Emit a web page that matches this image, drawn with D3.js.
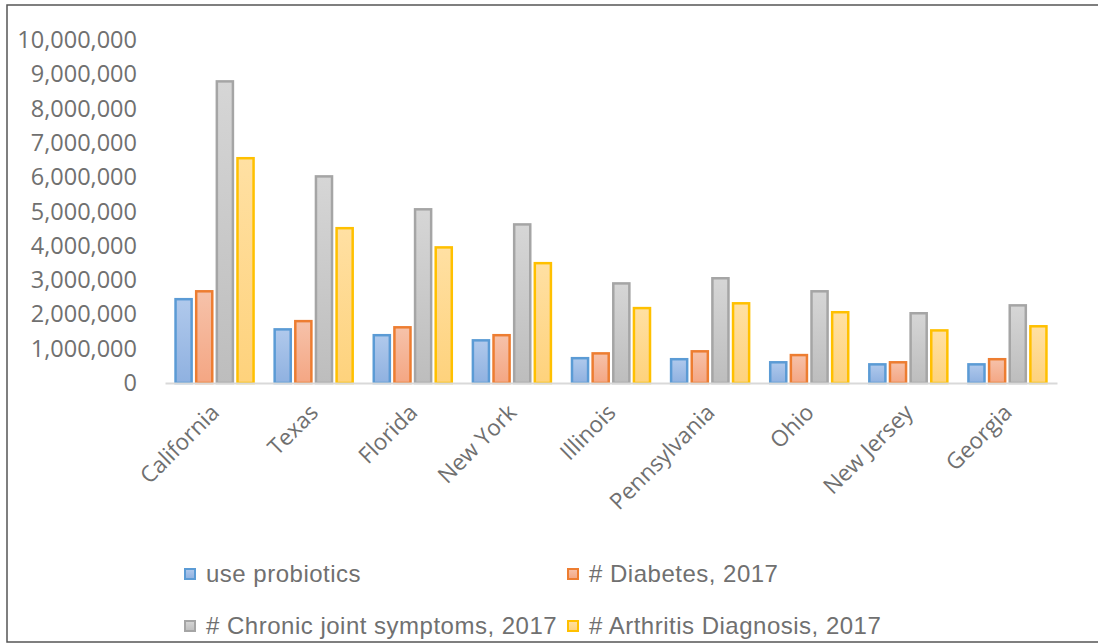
<!DOCTYPE html>
<html>
<head>
<meta charset="utf-8">
<script src="https://cdn.jsdelivr.net/npm/d3@7"></script>
<style>
  body { margin: 0; background: #fff; }
  svg { display: block; }
</style>
</head>
<body>
<div id="chart"></div>
<script>
const states = ["California", "Texas", "Florida", "New York", "Illinois", "Pennsylvania", "Ohio", "New Jersey", "Georgia"];
const seriesNames = ["use probiotics", "# Diabetes, 2017", "# Chronic joint symptoms, 2017", "# Arthritis Diagnosis, 2017"];
const probiotics = [2480000, 1600000, 1430000, 1280000, 760000, 730000, 640000, 580000, 580000];
const diabetes = [2710000, 1840000, 1660000, 1430000, 900000, 960000, 850000, 640000, 730000];
const jointSymptoms = [8830000, 6060000, 5100000, 4660000, 2940000, 3090000, 2710000, 2070000, 2300000];
const arthritis = [6590000, 4550000, 3990000, 3530000, 2220000, 2360000, 2100000, 1570000, 1690000];
const yTicks = [0, 1000000, 2000000, 3000000, 4000000, 5000000, 6000000, 7000000, 8000000, 9000000, 10000000];

const series = [probiotics, diabetes, jointSymptoms, arthritis];
const colors = [
  { stroke: "#5b9bd5", top: "#b0c9ec", bottom: "#8fb1e0" },
  { stroke: "#ed7d31", top: "#f6c2aa", bottom: "#f4a683" },
  { stroke: "#a5a5a5", top: "#d6d6d6", bottom: "#bdbdbd" },
  { stroke: "#ffc000", top: "#ffe0a3", bottom: "#fed27c" }
];
const textColor = "#707070";

const width = 1098, height = 644;
const svg = d3.select("#chart").append("svg")
  .attr("width", width)
  .attr("height", height);

const defs = svg.append("defs");
colors.forEach((c, i) => {
  const g = defs.append("linearGradient")
    .attr("id", "grad" + i)
    .attr("x1", 0).attr("y1", 0).attr("x2", 0).attr("y2", 1);
  g.append("stop").attr("offset", "0%").attr("stop-color", c.top);
  g.append("stop").attr("offset", "100%").attr("stop-color", c.bottom);
});

// outer frame
svg.append("rect")
  .attr("x", 7).attr("y", 5)
  .attr("width", width + 20).attr("height", 637)
  .attr("fill", "none")
  .attr("stroke", "#555")
  .attr("stroke-width", 1.5);

const x0 = d3.scaleBand()
  .domain(states)
  .range([165, 1057])
  .paddingInner(0)
  .paddingOuter(0);

const x1 = d3.scaleBand()
  .domain(d3.range(series.length))
  .range([0, x0.bandwidth()])
  .paddingInner(0.1)
  .paddingOuter(0.45);

const y = d3.scaleLinear()
  .domain([0, 10000000])
  .range([383, 40]);

// y axis labels
const yAxis = svg.append("g")
  .attr("transform", "translate(140,0)")
  .call(d3.axisLeft(y).tickValues(yTicks).tickSize(0).tickPadding(3).tickFormat(d3.format(",")));
yAxis.select(".domain").remove();
yAxis.selectAll("text")
  .attr("fill", textColor)
  .style("font-family", "'Open Sans', sans-serif")
  .style("font-size", "23.5px");

// bars
const groups = svg.append("g").selectAll("g")
  .data(states)
  .join("g")
  .attr("transform", d => `translate(${x0(d)},0)`);

groups.selectAll("rect")
  .data((d, i) => series.map((s, k) => ({ k, v: s[i] })))
  .join("rect")
  .attr("x", d => x1(d.k) + 1.25)
  .attr("y", d => y(d.v) + 1.25)
  .attr("width", x1.bandwidth() - 2.5)
  .attr("height", d => y(0) - y(d.v) - 1.25)
  .attr("fill", d => `url(#grad${d.k})`)
  .attr("stroke", d => colors[d.k].stroke)
  .attr("stroke-width", 2.5);

// x axis
const xAxis = svg.append("g")
  .attr("transform", `translate(0,${y(0)})`)
  .call(d3.axisBottom(x0).tickSize(0).tickPadding(0));
xAxis.select(".domain")
  .attr("stroke", "#d9d9d9")
  .attr("stroke-width", 2);
xAxis.selectAll("text")
  .attr("fill", textColor)
  .style("font-family", "'Open Sans', sans-serif")
  .style("font-size", "22.5px")
  .attr("text-anchor", "end")
  .attr("dy", 0)
  .attr("transform", "translate(6,31) rotate(-45)");

// legend
const legendItems = [
  { k: 0, x: 184, y: 574 },
  { k: 1, x: 567, y: 574 },
  { k: 2, x: 184, y: 626 },
  { k: 3, x: 567, y: 626 }
];
const legend = svg.append("g").selectAll("g")
  .data(legendItems)
  .join("g")
  .attr("transform", d => `translate(${d.x},${d.y})`);
legend.append("rect")
  .attr("x", 1).attr("y", -5)
  .attr("width", 10).attr("height", 10)
  .attr("fill", d => `url(#grad${d.k})`)
  .attr("stroke", d => colors[d.k].stroke)
  .attr("stroke-width", 2);
legend.append("text")
  .attr("x", 22)
  .attr("y", 0)
  .attr("dy", "0.35em")
  .attr("fill", textColor)
  .style("font-family", "'Liberation Sans Narrow', sans-serif")
  .style("font-size", "24px")
  .style("letter-spacing", "0.5px")
  .text(d => seriesNames[d.k]);
</script>
</body>
</html>
